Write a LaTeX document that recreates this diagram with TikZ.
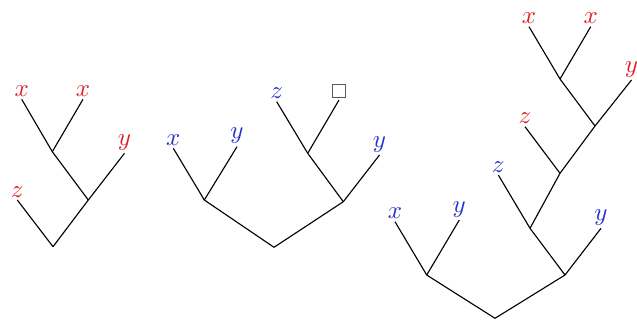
\documentclass[tikz,border=0pt]{standalone}
\usepackage{xcolor}
\usepackage{amsmath}
\usepackage{tikz}
\usetikzlibrary{positioning}
\definecolor{leafred}{RGB}{228, 28, 36}
\definecolor{leafblue}{RGB}{36, 48, 204}

\begin{document}
\begin{tikzpicture}[
    x=0.4pt, y=-0.4pt,
    leaf/.style={anchor=south, inner sep=1pt},
    redleaf/.style={leaf, text=leafred},
    blueleaf/.style={leaf, text=leafblue},
    holebox/.style={anchor=south, draw=gray!70!black, minimum size=5pt, inner sep=0pt, outer sep=1.2pt},
    edge/.style={draw, line width=0.45pt}
]
    \useasboundingbox (0,0) rectangle (637,320);

    % First tree (red)
    \coordinate (r1) at (53,246.7);
    \coordinate (a1) at (88.3,200);
    \coordinate (b1) at (52.3,151.7);
    \node[redleaf] (z1) at (17.3,200) {$z$};
    \node[redleaf] (y1) at (124.5,153.3) {$y$};
    \node[redleaf] (xa1) at (21.7,99.3) {$x$};
    \node[redleaf] (xb1) at (83,99.3) {$x$};

    \path[edge] (r1) -- (z1.south);
    \path[edge] (r1) -- (a1);
    \path[edge] (a1) -- (y1.south);
    \path[edge] (a1) -- (b1);
    \path[edge] (b1) -- (xa1.south);
    \path[edge] (b1) -- (xb1.south);

    % Second tree (blue)
    \coordinate (r2) at (274,247.3);
    \coordinate (a2) at (204.3,200);
    \coordinate (b2) at (343.3,201.7);
    \coordinate (c2) at (307.7,153.3);
    \node[blueleaf] (x2) at (173.3,148.3) {$x$};
    \node[blueleaf] (ya2) at (237,146.7) {$y$};
    \node[blueleaf] (z2) at (276.7,101.7) {$z$};
    \node[holebox] (hole2) at (339,100) {};
    \node[blueleaf] (yb2) at (379.5,155) {$y$};

    \path[edge] (r2) -- (a2);
    \path[edge] (r2) -- (b2);
    \path[edge] (a2) -- (x2.south);
    \path[edge] (a2) -- (ya2.south);
    \path[edge] (b2) -- (c2);
    \path[edge] (b2) -- (yb2.south);
    \path[edge] (c2) -- (z2.south);
    \path[edge] (c2) -- (hole2.south);

    % Third tree (blue with red tree plugged in)
    \coordinate (r3) at (495,318.3);
    \coordinate (a3) at (426.7,275);
    \coordinate (b3) at (565,275);
    \coordinate (c3) at (530,228.3);
    \coordinate (d3) at (560,173.3);
    \coordinate (e3) at (595,126);
    \coordinate (f3) at (560,79);
    \node[blueleaf] (x3) at (395,221.7) {$x$};
    \node[blueleaf] (ya3) at (459.3,220) {$y$};
    \node[blueleaf] (yb3) at (601,228.3) {$y$};
    \node[blueleaf] (zb3) at (498.3,175) {$z$};
    \node[redleaf] (zr3) at (525,126.7) {$z$};
    \node[redleaf] (yr3) at (631.5,80) {$y$};
    \node[redleaf] (xa3) at (529,26.7) {$x$};
    \node[redleaf] (xb3) at (590.7,26.7) {$x$};

    \path[edge] (r3) -- (a3);
    \path[edge] (r3) -- (b3);
    \path[edge] (a3) -- (x3.south);
    \path[edge] (a3) -- (ya3.south);
    \path[edge] (b3) -- (c3);
    \path[edge] (b3) -- (yb3.south);
    \path[edge] (c3) -- (zb3.south);
    \path[edge] (c3) -- (d3);
    \path[edge] (d3) -- (zr3.south);
    \path[edge] (d3) -- (e3);
    \path[edge] (e3) -- (yr3.south);
    \path[edge] (e3) -- (f3);
    \path[edge] (f3) -- (xa3.south);
    \path[edge] (f3) -- (xb3.south);
\end{tikzpicture}
\end{document}
